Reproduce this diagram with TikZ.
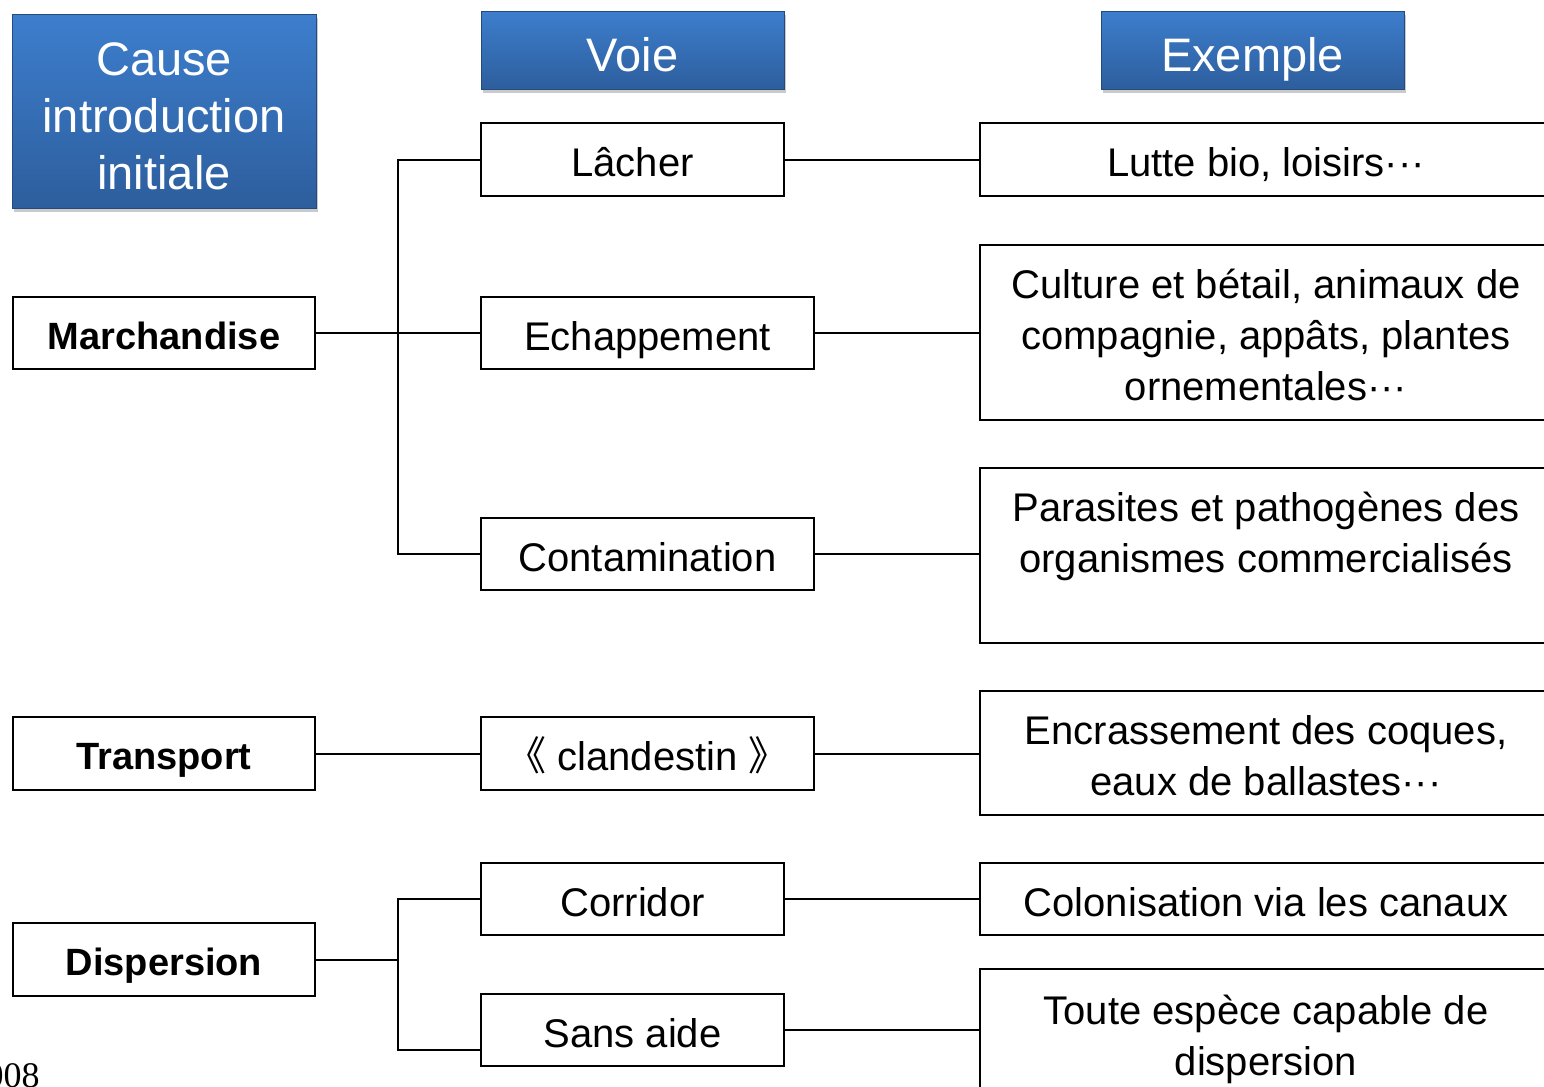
\documentclass[tikz,border=0pt]{standalone}
\usepackage{fontspec}
\setmainfont{Liberation Sans}
\newfontfamily\cjk{Noto Sans CJK JP}
\newfontfamily\serifnum{Liberation Serif}
\usetikzlibrary{shadows}
\definecolor{hdtop}{RGB}{61,126,205}
\definecolor{hdbot}{RGB}{45,94,157}
\tikzset{
  hdr/.style={draw=hdbot!80!black, line width=0.4pt, top color=hdtop, bottom color=hdbot,
    text=white, inner sep=0pt, outer sep=0pt, align=center,
    font=\fontsize{23.5}{28.5}\selectfont, text height=22pt, text depth=0.5pt,
    drop shadow={shadow xshift=1.2pt, shadow yshift=-1.8pt, opacity=0.35, fill=black!60}},
  bx/.style={draw, line width=1pt, fill=white, inner sep=0pt, outer sep=0pt, align=center,
    font=\fontsize{20}{25.5}\selectfont, text height=17.5pt, text depth=0.5pt},
  bbx/.style={bx, font=\fontsize{19}{24}\selectfont\bfseries, text height=16.5pt, text depth=0.5pt},
  mtxt/.style={inner sep=0pt, outer sep=0pt, anchor=base, font=\fontsize{20}{25.5}\selectfont},
  htxt/.style={mtxt, text=white, font=\fontsize{23.5}{28.5}\selectfont},
  ln/.style={line width=1pt}
}
\newcommand{\dotsjp}{\textperiodcentered\textperiodcentered\textperiodcentered}
\newcommand{\mlines}[1]{\begin{tabular}[t]{@{}c@{}}#1\end{tabular}}
\begin{document}
\begin{tikzpicture}[x=0.5pt, y=-0.5pt]
\useasboundingbox (0,0) rectangle (1544,1087);
% headers
\node[hdr, minimum width=152pt, minimum height=97pt] (hcause) at (164,111) {};
\node[htxt] (hcause-t) at (164,75) {\mlines{Cause\\introduction\\initiale}};
\node[hdr, minimum width=151.5pt, minimum height=39pt] (hvoie) at (632.5,50) {Voie};
\node[hdr, minimum width=151.5pt, minimum height=39pt] (hex) at (1252.5,50) {Exemple};
% left column
\node[bbx, minimum width=151pt, minimum height=36pt] (march) at (164,333) {Marchandise};
\node[bbx, minimum width=151pt, minimum height=36.5pt] (transp) at (164,753.5) {Transport};
\node[bbx, minimum width=151pt, minimum height=36.5pt] (disp) at (164,959.5) {Dispersion};
% middle column
\node[bx, minimum width=151.5pt, minimum height=36.5pt] (lacher) at (632.5,159.5) {Lâcher};
\node[bx, minimum width=166.5pt, minimum height=36pt] (echap) at (647.5,333) {Echappement};
\node[bx, minimum width=166.5pt, minimum height=36pt] (contam) at (647.5,554) {Contamination};
\node[bx, minimum width=166.5pt, minimum height=36.5pt] (cland) at (647.5,753.5) {{\cjk 《} clandestin {\cjk 》}};
\node[bx, minimum width=151.5pt, minimum height=36pt] (corr) at (632.5,899) {Corridor};
\node[bx, minimum width=151.5pt, minimum height=36pt] (sans) at (632.5,1030) {Sans aide};
% right column
\node[bx, minimum width=286pt, minimum height=36.5pt] (lutte) at (1266,159.5) {Lutte bio, loisirs\dotsjp};
\node[bx, minimum width=286pt, minimum height=87.5pt] (cult) at (1266,332.5) {};
\node[mtxt] (cult-t) at (1266,298) {\mlines{Culture et bétail, animaux de\\compagnie, appâts, plantes\\ornementales\dotsjp}};
\node[bx, minimum width=286pt, minimum height=87.5pt] (paras) at (1266,555.5) {};
\node[mtxt] (paras-t) at (1266,521) {\mlines{Parasites et pathogènes des\\organismes commercialisés}};
\node[bx, minimum width=286pt, minimum height=62pt] (encr) at (1266,753) {};
\node[mtxt] (encr-t) at (1266,744) {\mlines{Encrassement des coques,\\eaux de ballastes\dotsjp}};
\node[bx, minimum width=286pt, minimum height=36pt] (colo) at (1266,899) {Colonisation via les canaux};
\node[bx, minimum width=286pt, minimum height=66pt] (toute) at (1266,1035) {};
\node[mtxt] (toute-t) at (1266,1024) {\mlines{Toute espèce capable de\\dispersion}};
% source fragment
\node[anchor=base east, inner sep=0pt, font=\serifnum\fontsize{18}{18}\selectfont] (src) at (40,1087) {2008};
% connectors
\coordinate (j1) at (398,333);
\draw[ln] (march.east) -- (j1);
\draw[ln] (lacher.west) -| (j1) |- (contam.west);
\draw[ln] (j1) -- (echap.west);
\draw[ln] (lacher.east) -- (lacher.east -| lutte.west);
\draw[ln] (echap.east) -- (echap.east -| cult.west);
\draw[ln] (contam.east) -- (contam.east -| paras.west);
\draw[ln] (transp.east) -- (cland.west);
\draw[ln] (cland.east) -- (cland.east -| encr.west);
\coordinate (j2) at (398,959.5);
\draw[ln] (disp.east) -- (j2);
\draw[ln] (corr.west) -| (j2) |- ([yshift=-10pt]sans.west);
\draw[ln] (corr.east) -- (corr.east -| colo.west);
\draw[ln] (sans.east) -- (sans.east -| toute.west);
\end{tikzpicture}
\end{document}
